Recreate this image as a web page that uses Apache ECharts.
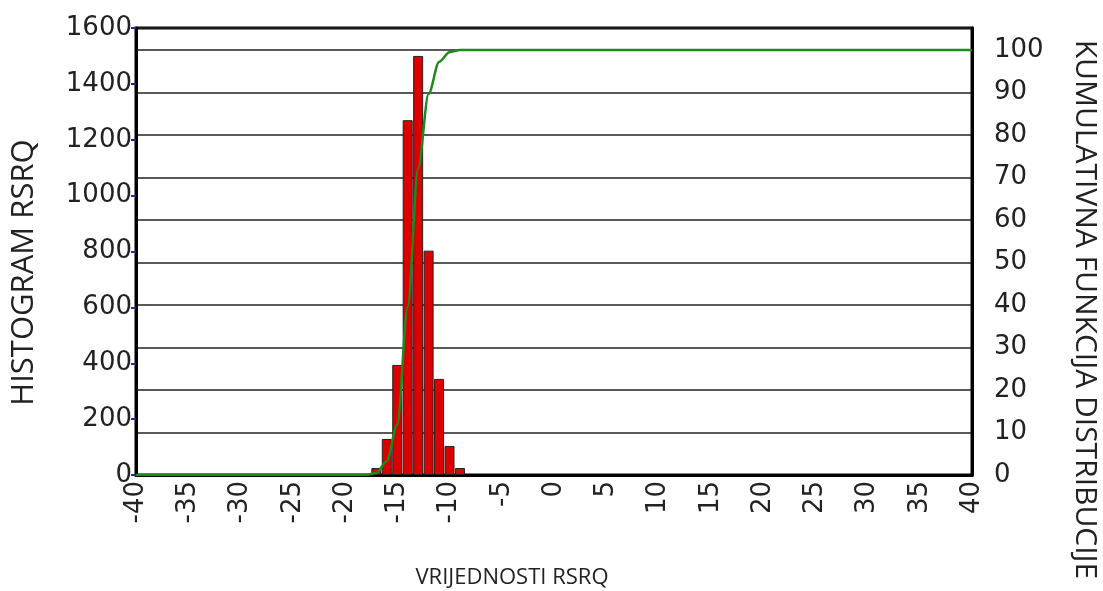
<!DOCTYPE html>
<html>
<head>
<meta charset="utf-8">
<script src="https://cdn.jsdelivr.net/npm/echarts@6/dist/echarts.min.js"></script>
<style>
  html, body { margin: 0; padding: 0; background: #fff; }
  #chart { width: 1103px; height: 591px; }
</style>
</head>
<body>
<div id="chart"></div>
<script>
// histogram bins (centres) and counts
const binCentres = [-17, -16, -15, -14, -13, -12, -11, -10, -9]
const binCounts = [25, 129, 394, 1270, 1500, 803, 344, 104, 25]
// cumulative distribution, in percent
const cdfX = [-40, -18, -17, -16, -15, -14, -13, -12, -11, -10, -9, 40]
const cdfY = [0, 0, 0.5, 3.3, 11.9, 39.6, 72.2, 89.7, 97.2, 99.5, 100, 100]

const numFont = 'DejaVu Sans'
const nameFont = 'Open Sans'

const chart = echarts.init(document.getElementById('chart'))

const option = {
  backgroundColor: '#fff',
  animation: false,
  grid: {
    left: 136,
    right: 131,
    top: 28,
    bottom: 116,
    outerBoundsMode: 'none',
    show: true,
    borderColor: '#000',
    borderWidth: 3
  },
  xAxis: {
    type: 'value',
    min: -40,
    max: 40,
    interval: 5,
    name: 'VRIJEDNOSTI RSRQ',
    nameLocation: 'middle',
    nameGap: 92,
    nameTextStyle: { fontFamily: nameFont, fontSize: 22, color: '#222', padding: [0, 84, 0, 0] },
    axisLine: { show: true, onZero: false, lineStyle: { color: '#000', width: 3 } },
    axisTick: { show: false },
    axisLabel: {
      rotate: 90,
      margin: 6,
      fontFamily: numFont,
      fontSize: 26,
      color: '#222'
    },
    splitLine: { show: false }
  },
  yAxis: [
    {
      type: 'value',
      min: 0,
      max: 1600,
      interval: 200,
      name: 'HISTOGRAM RSRQ',
      nameLocation: 'middle',
      nameGap: 96,
      nameTextStyle: { fontFamily: nameFont, fontSize: 31, color: '#222', padding: [0, 42, 0, 0] },
      axisLine: { show: true, onZero: false, lineStyle: { color: '#000', width: 3 } },
      axisTick: { show: true, length: 5, lineStyle: { color: '#1a2aa8', width: 2 } },
      axisLabel: {
        margin: 4,
        fontFamily: numFont,
        fontSize: 26,
        color: '#222',
        formatter: v => String(v)
      },
      splitLine: { show: false }
    },
    {
      type: 'value',
      min: 0,
      max: 105.2,
      interval: 10,
      position: 'right',
      name: 'KUMULATIVNA FUNKCIJA DISTRIBUCIJE',
      nameLocation: 'middle',
      nameGap: 98,
      nameRotate: -90,
      nameTextStyle: { fontFamily: nameFont, fontSize: 30, color: '#222', padding: [0, 0, 0, 116] },
      axisLine: { show: true, onZero: false, lineStyle: { color: '#000', width: 3 } },
      axisTick: { show: false },
      axisLabel: {
        margin: 22,
        showMaxLabel: false,
        fontFamily: numFont,
        fontSize: 26,
        color: '#222',
        formatter: v => (v <= 100 ? String(v) : '')
      },
      splitLine: { show: true, lineStyle: { color: '#222', width: 1.5 } }
    }
  ],
  series: [
    {
      type: 'bar',
      yAxisIndex: 0,
      data: binCentres.map((x, i) => [x, binCounts[i]]),
      barWidth: 10,
      itemStyle: { color: '#dd0000', borderColor: '#222', borderWidth: 1 },
      z: 2
    },
    {
      type: 'line',
      yAxisIndex: 1,
      data: cdfX.map((x, i) => [x, cdfY[i]]),
      showSymbol: false,
      smooth: 0.3,
      smoothMonotone: 'x',
      lineStyle: { color: '#1e8a1e', width: 2.5 },
      z: 3
    }
  ]
}

chart.setOption(option)
</script>
</body>
</html>
